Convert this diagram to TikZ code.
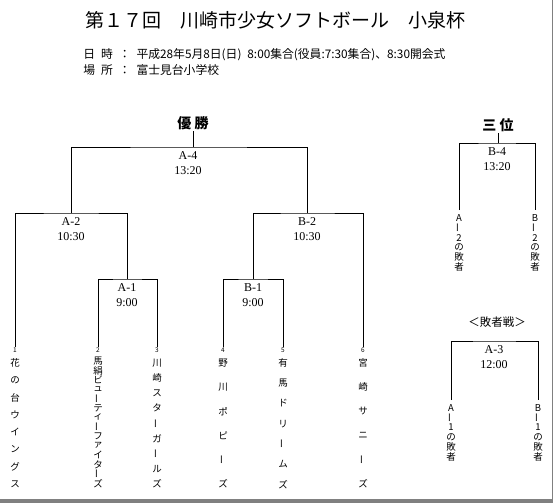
\documentclass[tikz,border=0pt]{standalone}
\usepackage{fontspec}
\usepackage{graphicx}
\setmainfont{Liberation Serif}
\newfontfamily\jp{Noto Sans CJK JP}
\usetikzlibrary{positioning}
\definecolor{frame}{HTML}{808080}
\newcommand{\vbar}{\rotatebox[origin=c]{90}{ー}}
\newcommand{\gap}{\hspace{0.5em}}
% one vertical name, letter by letter: x, name, first y, step, letters
\newcommand{\teamcol}[5]{%
  \foreach \ch [count=\i] in {#5}
    \node[kana] (#2-\i) at (#1,{#3+(\i-1)*#4}) {\ch};}

\begin{document}
\begin{tikzpicture}[x=1pt, y=-1pt, line width=0.9pt,
  match/.style={anchor=north, align=center, inner xsep=1pt, inner ysep=4pt, font=\fontsize{12}{15}\selectfont},
  kana/.style={inner sep=0pt, font=\jp\fontsize{9.5}{9.5}\selectfont},
  num/.style={anchor=north, inner sep=0.5pt, font=\jp\fontsize{6.5}{6.5}\selectfont},
  head/.style={inner sep=1pt, font=\jp\bfseries\fontsize{14}{14}\selectfont},
  info/.style={anchor=west, inner sep=0pt, font=\jp\fontsize{11.8}{11.8}\selectfont}]
  \useasboundingbox (0,0) rectangle (554,503);
  \fill[frame] (0,499) rectangle (553,503);
  \fill[frame] (552,0) rectangle (553,503);

  % heading
  \node[font=\jp\fontsize{19}{19}\selectfont] (title) at (275,20) {第１７回　川崎市少女ソフトボール　小泉杯};
  \node[info] (date) at (83,55) {日\gap 時\gap ：\gap 平成28年5月8日(日)\gap 8:00集合(役員:7:30集合)、8:30開会式};
  \node[info] (place) at (83,70) {場\gap 所\gap ：\gap 富士見台小学校};

  % main bracket
  \node[head] (win) at (193,123) {優 勝};
  \coordinate (a4) at (188,147);
  \coordinate (a2) at (71,213);
  \coordinate (b2) at (307,213);
  \coordinate (a1) at (127,279);
  \coordinate (b1) at (253,279);
  \node[match] (a4t) at (a4) {A-4\\13:20};
  \node[match] (a2t) at (a2) {A-2\\10:30};
  \node[match] (b2t) at (b2) {B-2\\10:30};
  \node[match] (a1t) at (a1) {A-1\\9:00};
  \node[match] (b1t) at (b1) {B-1\\9:00};

  \node[num] (n1) at (15,347) {1};
  \node[num] (n2) at (98,347) {2};
  \node[num] (n3) at (157,347) {3};
  \node[num] (n4) at (223,347) {4};
  \node[num] (n5) at (283,347) {5};
  \node[num] (n6) at (363,347) {6};
  \teamcol{15}{t1}{363}{17.3}{花,の,台,ウ,イ,ン,グ,ス}
  \teamcol{98}{t2}{361}{9.4}{馬,絹,ビ,ュ,\vbar,テ,ィ,\vbar,フ,ァ,イ,タ,\vbar,ズ}
  \teamcol{157}{t3}{363}{15.1}{川,崎,ス,タ,\vbar,ガ,\vbar,ル,ズ}
  \teamcol{223}{t4}{363}{24.2}{野,川,ポ,ピ,\vbar,ズ}
  \teamcol{283}{t5}{363}{20.2}{有,馬,ド,リ,\vbar,ム,ズ}
  \teamcol{363}{t6}{363}{24.2}{宮,崎,サ,ニ,\vbar,ズ}

  \draw (win) -- (win |- a4);
  \draw (a2) |- (a4) -| (b2);
  \draw (n1) |- (a2) -| (a1);
  \draw (n2) |- (a1) -| (n3);
  \draw (n4) |- (b1) -| (n5);
  \draw (b1) |- (b2) -| (n6);

  % third place
  \node[head] (third) at (498,125) {三 位};
  \coordinate (b4) at (497,143);
  \node[match] (b4t) at (b4) {B-4\\13:20};
  \teamcol{459}{la}{218}{9.8}{A,\vbar,2,の,敗,者}
  \teamcol{535}{lb}{218}{9.8}{B,\vbar,2,の,敗,者}
  \draw (third) -- (third |- b4);
  \draw[shorten <=4pt, shorten >=4pt] (la-1) |- (b4) -| (lb-1);

  % losers' match
  \node[font=\jp\fontsize{11.5}{11.5}\selectfont] (lose) at (497,322) {＜敗者戦＞};
  \coordinate (a3) at (494,341);
  \node[match] (a3t) at (a3) {A-3\\12:00};
  \teamcol{451}{lc}{408}{9.8}{A,\vbar,1,の,敗,者}
  \teamcol{538}{ld}{408}{9.8}{B,\vbar,1,の,敗,者}
  \draw[shorten <=4pt, shorten >=4pt] (lc-1) |- (a3) -| (ld-1);
\end{tikzpicture}
\end{document}
